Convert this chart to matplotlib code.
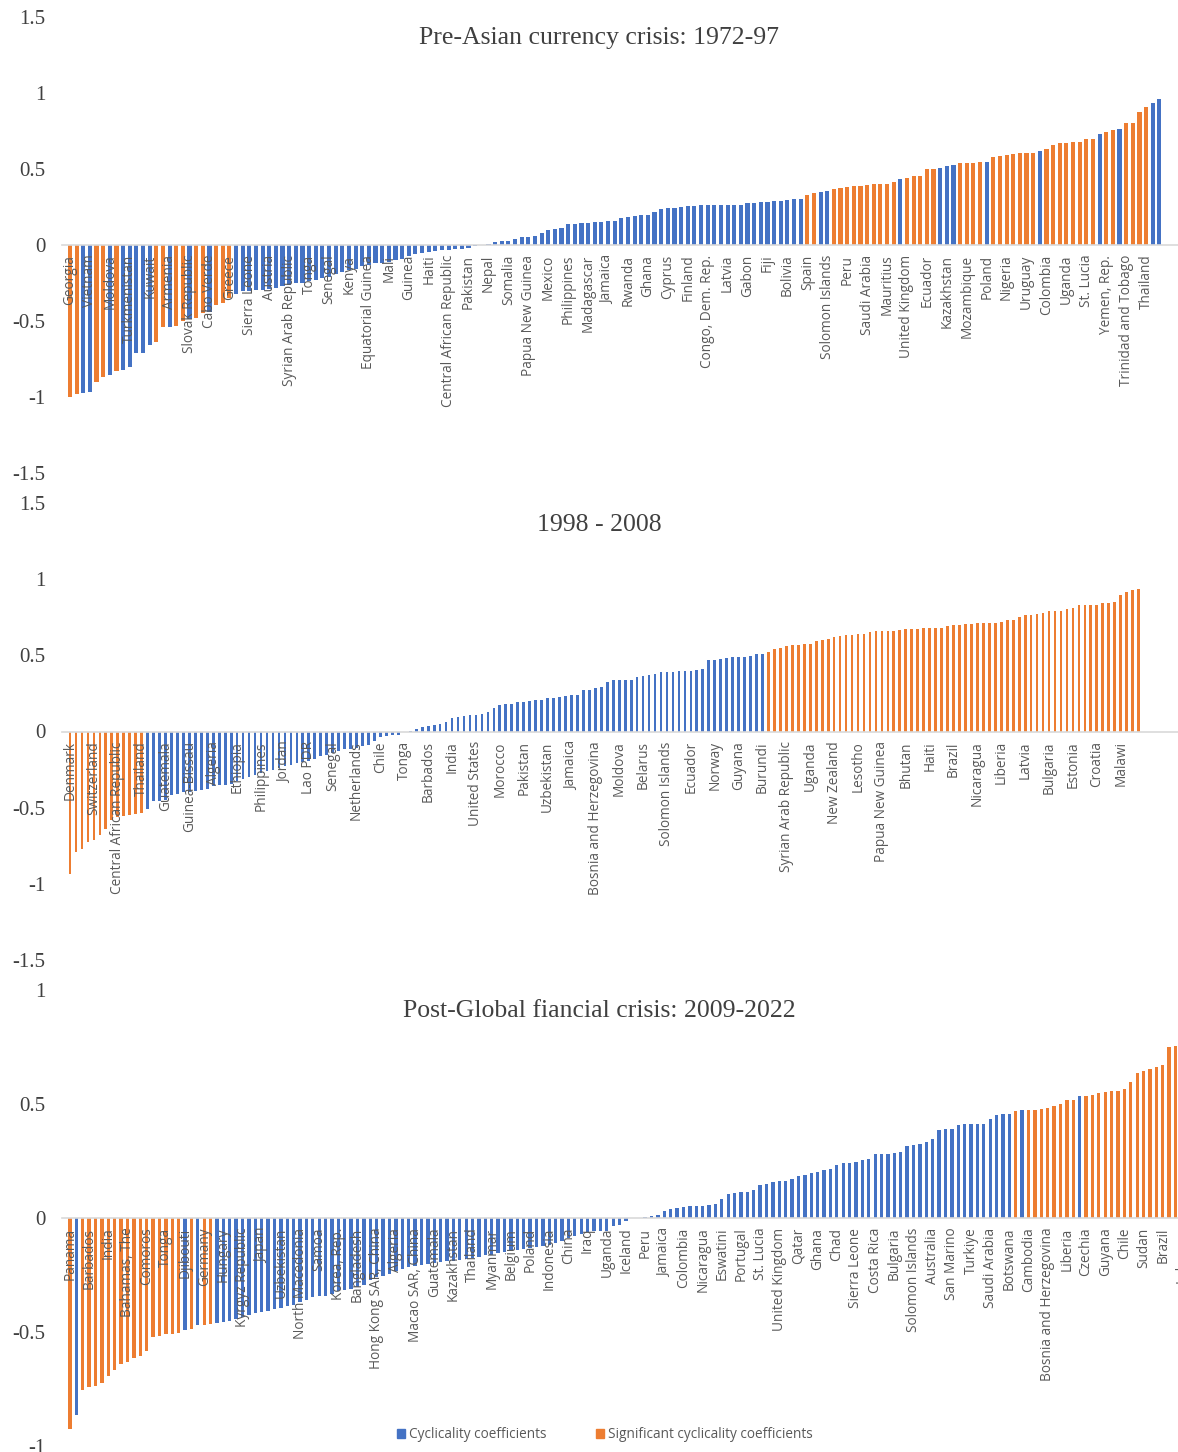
import numpy as np
import matplotlib
matplotlib.use("Agg")
import matplotlib.pyplot as plt
from matplotlib.patches import Patch

BLUE = "#4472C4"
ORANGE = "#ED7D31"

# ---- 1972-97 ----
labels_pre = ["Georgia", "Vietnam", "Moldova", "Turkmenistan", "Kuwait", "Armenia",
              "Slovak Republic", "Cabo Verde", "Greece", "Sierra Leone", "Austria",
              "Syrian Arab Republic", "Tonga", "Senegal", "Kenya", "Equatorial Guinea",
              "Mali", "Guinea", "Haiti", "Central African Republic", "Pakistan", "Nepal",
              "Somalia", "Papua New Guinea", "Mexico", "Philippines", "Madagascar",
              "Jamaica", "Rwanda", "Ghana", "Cyprus", "Finland", "Congo, Dem. Rep.",
              "Latvia", "Gabon", "Fiji", "Bolivia", "Spain", "Solomon Islands", "Peru",
              "Saudi Arabia", "Mauritius", "United Kingdom", "Ecuador", "Kazakhstan",
              "Mozambique", "Poland", "Nigeria", "Uruguay", "Colombia", "Uganda",
              "St. Lucia", "Yemen, Rep.", "Trinidad and Tobago", "Thailand"]
coef_pre = [
    -1.00, -0.98, -0.975, -0.97, -0.90, -0.87, -0.855, -0.83, -0.82, -0.80,
    -0.71, -0.71, -0.66, -0.64, -0.54, -0.54, -0.535, -0.50, -0.49, -0.48,
    -0.45, -0.44, -0.395, -0.38, -0.35, -0.32, -0.30, -0.30, -0.297, -0.296,
    -0.29, -0.285, -0.27, -0.26, -0.25, -0.25, -0.24, -0.23, -0.22, -0.21,
    -0.19, -0.18, -0.165, -0.155, -0.14, -0.13, -0.12, -0.12, -0.11, -0.10,
    -0.09, -0.072, -0.06, -0.05, -0.044, -0.037, -0.033, -0.03, -0.028, -0.025,
    -0.022, -0.007, -0.002, 0.007, 0.022, 0.026, 0.026, 0.037, 0.05, 0.055,
    0.061, 0.081, 0.10, 0.105, 0.11, 0.135, 0.14, 0.145, 0.148, 0.15,
    0.15, 0.155, 0.158, 0.175, 0.182, 0.193, 0.195, 0.20, 0.215, 0.235,
    0.241, 0.245, 0.25, 0.259, 0.259, 0.261, 0.261, 0.261, 0.261, 0.263,
    0.265, 0.265, 0.274, 0.276, 0.28, 0.283, 0.287, 0.287, 0.296, 0.30,
    0.30, 0.327, 0.34, 0.349, 0.357, 0.366, 0.373, 0.384, 0.386, 0.39,
    0.397, 0.40, 0.40, 0.404, 0.414, 0.432, 0.443, 0.452, 0.454, 0.498,
    0.50, 0.507, 0.518, 0.524, 0.537, 0.537, 0.54, 0.546, 0.546, 0.581,
    0.586, 0.592, 0.599, 0.603, 0.605, 0.605, 0.618, 0.634, 0.658, 0.669,
    0.671, 0.675, 0.675, 0.695, 0.695, 0.73, 0.743, 0.754, 0.761, 0.803,
    0.805, 0.877, 0.906, 0.932, 0.958]
# positions of the significant coefficients
sig_pre = ([0, 1, 4, 5, 7, 13, 14, 16, 17, 19, 20, 22, 23, 24, 111, 112]
           + list(range(115, 125)) + list(range(126, 131)) + list(range(134, 138))
           + list(range(139, 146)) + list(range(147, 155)) + [156, 157]
           + list(range(159, 163)))

# ---- 1998-2008 ----
labels_mid = ["Denmark", "Switzerland", "Central African Republic", "Thailand",
              "Guatemala", "Guinea-Bissau", "Algeria", "Ethiopia", "Philippines",
              "Jordan", "Lao PDR", "Senegal", "Netherlands", "Chile", "Tonga",
              "Barbados", "India", "United States", "Morocco", "Pakistan", "Uzbekistan",
              "Jamaica", "Bosnia and Herzegovina", "Moldova", "Belarus",
              "Solomon Islands", "Ecuador", "Norway", "Guyana", "Burundi",
              "Syrian Arab Republic", "Uganda", "New Zealand", "Lesotho",
              "Papua New Guinea", "Bhutan", "Haiti", "Brazil", "Nicaragua", "Liberia",
              "Latvia", "Bulgaria", "Estonia", "Croatia", "Malawi"]
coef_mid = [
    -0.934, -0.794, -0.772, -0.728, -0.715, -0.68, -0.64, -0.583, -0.56, -0.557,
    -0.546, -0.54, -0.535, -0.509, -0.458, -0.458, -0.447, -0.42, -0.408, -0.40,
    -0.40, -0.39, -0.386, -0.38, -0.36, -0.353, -0.35, -0.342, -0.327, -0.31,
    -0.30, -0.283, -0.272, -0.26, -0.25, -0.24, -0.228, -0.217, -0.206, -0.20,
    -0.195, -0.18, -0.158, -0.151, -0.14, -0.13, -0.118, -0.118, -0.107, -0.096,
    -0.086, -0.06, -0.035, -0.03, -0.026, -0.024, -0.003, 0.002, 0.018, 0.028,
    0.033, 0.044, 0.048, 0.061, 0.088, 0.096, 0.105, 0.11, 0.11, 0.118,
    0.13, 0.156, 0.173, 0.178, 0.18, 0.195, 0.195, 0.20, 0.204, 0.204,
    0.217, 0.217, 0.224, 0.23, 0.241, 0.241, 0.27, 0.274, 0.287, 0.292,
    0.327, 0.335, 0.338, 0.34, 0.34, 0.357, 0.364, 0.37, 0.38, 0.388,
    0.393, 0.393, 0.395, 0.40, 0.40, 0.406, 0.408, 0.47, 0.47, 0.478,
    0.48, 0.487, 0.49, 0.49, 0.496, 0.507, 0.509, 0.524, 0.544, 0.55,
    0.56, 0.566, 0.57, 0.572, 0.577, 0.596, 0.60, 0.605, 0.623, 0.627,
    0.632, 0.636, 0.638, 0.643, 0.656, 0.658, 0.658, 0.66, 0.662, 0.667,
    0.671, 0.671, 0.671, 0.678, 0.678, 0.678, 0.68, 0.69, 0.697, 0.697,
    0.704, 0.704, 0.71, 0.71, 0.71, 0.715, 0.717, 0.73, 0.735, 0.75,
    0.763, 0.763, 0.772, 0.778, 0.794, 0.794, 0.794, 0.803, 0.81, 0.829,
    0.829, 0.829, 0.831, 0.842, 0.842, 0.849, 0.899, 0.919, 0.928, 0.936]
sig_mid = list(range(0, 13)) + list(range(117, 180))

# ---- 2009-2022 ----
labels_post = ["Panama", "Barbados", "India", "Bahamas, The", "Comoros", "Tonga",
               "Djibouti", "Germany", "Hungary", "Kyrgyz Republic", "Japan",
               "Uzbekistan", "North Macedonia", "Samoa", "Korea, Rep.", "Bangladesh",
               "Hong Kong SAR, China", "Algeria", "Macao SAR, China", "Guatemala",
               "Kazakhstan", "Thailand", "Myanmar", "Belgium", "Poland", "Indonesia",
               "China", "Iraq", "Uganda", "Iceland", "Peru", "Jamaica", "Colombia",
               "Nicaragua", "Eswatini", "Portugal", "St. Lucia", "United Kingdom",
               "Qatar", "Ghana", "Chad", "Sierra Leone", "Costa Rica", "Bulgaria",
               "Solomon Islands", "Australia", "San Marino", "Turkiye", "Saudi Arabia",
               "Botswana", "Cambodia", "Bosnia and Herzegovina", "Liberia", "Czechia",
               "Guyana", "Chile", "Sudan", "Brazil", "Lebanon"]
coef_post = [
    -0.924, -0.865, -0.756, -0.741, -0.737, -0.722, -0.694, -0.668, -0.642, -0.632,
    -0.614, -0.607, -0.582, -0.522, -0.519, -0.507, -0.507, -0.503, -0.493, -0.485,
    -0.471, -0.468, -0.463, -0.46, -0.456, -0.453, -0.444, -0.434, -0.424, -0.415,
    -0.412, -0.409, -0.398, -0.395, -0.386, -0.383, -0.368, -0.361, -0.346, -0.344,
    -0.342, -0.332, -0.319, -0.314, -0.31, -0.304, -0.295, -0.27, -0.26, -0.256,
    -0.246, -0.231, -0.222, -0.216, -0.212, -0.205, -0.202, -0.197, -0.193, -0.19,
    -0.187, -0.183, -0.178, -0.175, -0.173, -0.164, -0.161, -0.154, -0.15, -0.143,
    -0.139, -0.135, -0.132, -0.129, -0.124, -0.12, -0.11, -0.099, -0.088, -0.08,
    -0.07, -0.061, -0.058, -0.058, -0.056, -0.037, -0.03, -0.012, -0.002, 0.001,
    0.003, 0.007, 0.012, 0.031, 0.039, 0.042, 0.048, 0.051, 0.054, 0.054,
    0.056, 0.06, 0.082, 0.105, 0.11, 0.113, 0.115, 0.121, 0.145, 0.15,
    0.156, 0.164, 0.164, 0.171, 0.183, 0.19, 0.197, 0.202, 0.21, 0.213,
    0.231, 0.24, 0.24, 0.247, 0.254, 0.259, 0.279, 0.281, 0.282, 0.284,
    0.29, 0.316, 0.322, 0.323, 0.332, 0.348, 0.386, 0.389, 0.39, 0.408,
    0.411, 0.411, 0.411, 0.412, 0.434, 0.45, 0.455, 0.458, 0.468, 0.474,
    0.475, 0.475, 0.48, 0.481, 0.49, 0.499, 0.516, 0.516, 0.534, 0.537,
    0.541, 0.55, 0.554, 0.556, 0.558, 0.567, 0.595, 0.637, 0.645, 0.654,
    0.662, 0.671, 0.749, 0.753, 0.76]
sig_post = ([0] + list(range(2, 18)) + [19, 21, 22, 148]
            + list(range(150, 158)) + list(range(159, 175)))

W, H = 1178, 1452
fig = plt.figure(figsize=(W / 100, H / 100), dpi=100)


def px_rect(left, right, top, bottom):
    return [left / W, 1 - bottom / H, (right - left) / W, (bottom - top) / H]


def draw_panel(rect, coef, sig, labels, step, xlim, ylim, yticks, width, title, title_y):
    ax = fig.add_axes(rect)
    n = len(coef)
    x = np.arange(n)
    sig = set(sig)
    colors = [ORANGE if i in sig else BLUE for i in range(n)]
    ax.bar(x, coef, width=width, color=colors, linewidth=0)
    ax.set_xlim(*xlim)
    ax.set_ylim(*ylim)

    for side in ("top", "right", "left"):
        ax.spines[side].set_visible(False)
    ax.spines["bottom"].set_position(("data", 0))
    ax.spines["bottom"].set_color("#D9D9D9")
    ax.spines["bottom"].set_linewidth(1.2)

    ax.set_xticks(x[::step])
    ax.set_xticklabels(labels, rotation=90, fontsize=9.8, color="#595959",
                       family="Open Sans")
    ax.tick_params(axis="x", length=0, pad=7)

    ax.set_yticks(yticks)
    ax.set_yticklabels([f"{t:g}" for t in yticks], fontsize=15,
                       family="Liberation Serif", color="#404040")
    ax.tick_params(axis="y", length=0, pad=12)
    ax.patch.set_alpha(0)

    fig.text(599 / W, 1 - title_y / H, title, ha="center", va="center",
             fontsize=18.5, family="Liberation Serif", color="#404040")
    return ax


draw_panel(px_rect(62, 1178, 17, 473), coef_pre, sig_pre, labels_pre, 3,
           (-1.2, 166.8), (-1.5, 1.5), [-1.5, -1, -0.5, 0, 0.5, 1, 1.5], 0.62,
           "Pre-Asian currency crisis: 1972-97", 38)
draw_panel(px_rect(62, 1178, 503, 960), coef_mid, sig_mid, labels_mid, 4,
           (-1.34, 185.6), (-1.5, 1.5), [-1.5, -1, -0.5, 0, 0.5, 1, 1.5], 0.45,
           "1998 - 2008", 525)
draw_panel(px_rect(62, 1195, 990, 1446), coef_post, sig_post, labels_post, 3,
           (-1.25, 176.05), (-1, 1), [-1, -0.5, 0, 0.5, 1], 0.52,
           "Post-Global fiancial crisis: 2009-2022", 1011)

handles = [Patch(color=BLUE, label="Cyclicality coefficients"),
           Patch(color=ORANGE, label="Significant cyclicality coefficients")]
fig.legend(handles=handles, loc="center", bbox_to_anchor=(605 / W, 1 - 1435 / H),
           ncol=2, frameon=False, handlelength=0.6, handleheight=0.6,
           handletextpad=0.3, columnspacing=3.6,
           prop={"family": "Open Sans", "size": 9.8}, labelcolor="#595959")

fig.savefig("out.png", dpi=100)
